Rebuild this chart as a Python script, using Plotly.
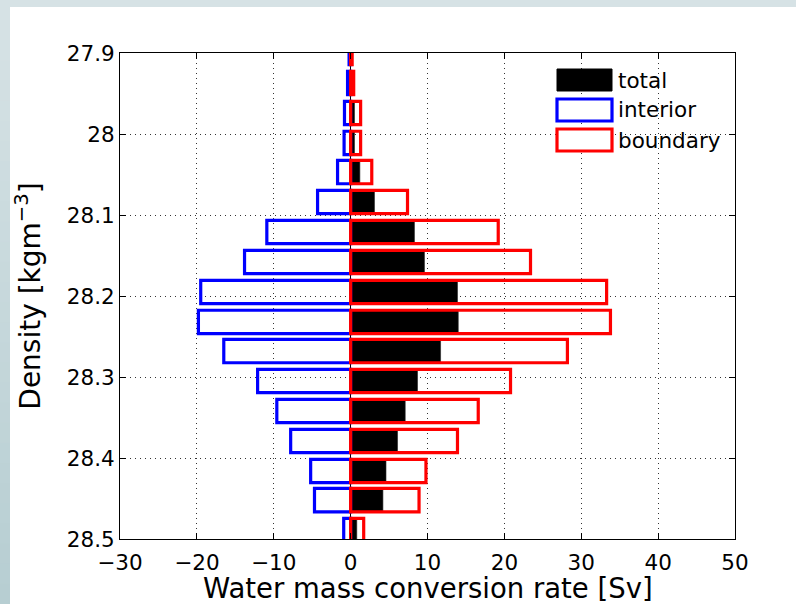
import plotly.graph_objects as go

# Density classes (bin centres, kg m^-3)
density = [27.900, 27.937, 27.974, 28.011, 28.047, 28.084, 28.121, 28.158, 28.195,
           28.232, 28.268, 28.305, 28.342, 28.379, 28.416, 28.452, 28.489]

# Water mass conversion rates (Sv)
total = [0.0, 0.05, 0.5, 0.5, 1.2, 3.1, 8.3, 9.6, 13.9,
         14.0, 11.7, 8.7, 7.1, 6.1, 4.6, 4.2, 0.8]
interior = [-0.2, -0.4, -0.8, -0.85, -1.7, -4.3, -10.9, -13.8, -19.5,
            -19.8, -16.5, -12.1, -9.6, -7.8, -5.2, -4.7, -0.9]
boundary = [0.2, 0.4, 1.3, 1.3, 2.75, 7.4, 19.2, 23.4, 33.3,
            33.8, 28.2, 20.8, 16.6, 13.9, 9.8, 8.9, 1.7]

y_ticks = [27.9, 28.0, 28.1, 28.2, 28.3, 28.4, 28.5]
y_ticktext = ["27.9", "28", "28.1", "28.2", "28.3", "28.4", "28.5"]

series_names = ["total", "interior", "boundary"]
series_colors = ["black", "#0000ff", "#ff0000"]

FONT = "DejaVu Sans"
W, H = 796, 604
ML, MR, MT, MB = 120, 61, 53, 65
PW, PH = W - ML - MR, H - MT - MB


def px(x):
    return (x - ML) / PW


def py(y):
    return (H - MB - y) / PH


fig = go.Figure()
fig.add_trace(go.Bar(y=density, x=total, orientation="h", name="total",
                     marker=dict(color="black", line=dict(color="#222", width=0.6)),
                     showlegend=False))
fig.add_trace(go.Bar(y=density, x=interior, orientation="h", name="interior",
                     marker=dict(color="rgba(0,0,0,0)", line=dict(color="#0000ff", width=3.2)),
                     showlegend=False))
fig.add_trace(go.Bar(y=density, x=boundary, orientation="h", name="boundary",
                     marker=dict(color="rgba(0,0,0,0)", line=dict(color="#ff0000", width=3.2)),
                     showlegend=False))

shapes = []
# window-style backdrop: light frame at top/left with a soft vertical gradient
top_c = (214, 226, 229)
bot_c = (183, 206, 210)
n = 30
for i in range(n):
    t = i / (n - 1)
    c = tuple(round(top_c[k] + (bot_c[k] - top_c[k]) * t) for k in range(3))
    shapes.append(dict(type="rect", xref="paper", yref="paper", layer="below",
                       x0=px(0), x1=px(10), y0=py(H * i / n), y1=py(H * (i + 1) / n + 1),
                       fillcolor="rgb(%d,%d,%d)" % c, line=dict(width=0)))
shapes.append(dict(type="rect", xref="paper", yref="paper", layer="below",
                   x0=px(10), x1=px(W), y0=py(0), y1=py(7),
                   fillcolor="rgb(%d,%d,%d)" % top_c, line=dict(width=0)))
shapes.append(dict(type="rect", xref="paper", yref="paper", layer="below",
                   x0=px(10), x1=px(W), y0=py(7), y1=py(H),
                   fillcolor="white", line=dict(width=0)))

# legend swatches
annotations = []
sw_x0, sw_x1 = 557, 612
rows = [(69, 91), (99, 121), (129, 151)]
for (y0, y1), name, col in zip(rows, series_names, series_colors):
    if name == "total":
        shapes.append(dict(type="rect", xref="paper", yref="paper", layer="above",
                           x0=px(sw_x0), x1=px(sw_x1), y0=py(y1), y1=py(y0),
                           fillcolor="black", line=dict(color="black", width=1)))
    else:
        shapes.append(dict(type="rect", xref="paper", yref="paper", layer="above",
                           x0=px(sw_x0), x1=px(sw_x1), y0=py(y1), y1=py(y0),
                           fillcolor="white", line=dict(color=col, width=3.2)))
    annotations.append(dict(xref="paper", yref="paper", x=px(616), y=py((y0 + y1) / 2),
                            text=name, showarrow=False, xanchor="left", yanchor="middle",
                            font=dict(family=FONT, size=21.5, color="black")))

# x-axis title
annotations.append(dict(xref="paper", yref="paper", x=0.5, y=py(588),
                        text="Water mass conversion rate [Sv]", showarrow=False,
                        xanchor="center", yanchor="middle",
                        font=dict(family=FONT, size=27.5, color="black")))

fig.update_layout(
    width=W, height=H,
    margin=dict(l=ML, r=MR, t=MT, b=MB, pad=0, autoexpand=False),
    barmode="overlay", bargap=0.2,
    paper_bgcolor="white", plot_bgcolor="white",
    font=dict(family=FONT, size=21.5, color="black"),
    shapes=shapes, annotations=annotations,
    showlegend=False,
)
fig.update_xaxes(
    range=[-30, 50], tick0=0, dtick=10, automargin=False,
    ticks="inside", ticklen=6, tickcolor="black",
    showline=True, linecolor="black", linewidth=1, mirror="ticks",
    showgrid=True, gridcolor="#333", gridwidth=1, griddash="1px,4px",
    zeroline=True, zerolinecolor="black", zerolinewidth=1,
    tickfont=dict(family=FONT, size=21.5), ticklabelstandoff=4,
)
fig.update_yaxes(
    range=[28.5, 27.9], tickvals=y_ticks, ticktext=y_ticktext, automargin=False,
    ticks="inside", ticklen=6, tickcolor="black",
    showline=True, linecolor="black", linewidth=1, mirror="ticks",
    showgrid=True, gridcolor="#333", gridwidth=1, griddash="1px,4px",
    zeroline=False,
    tickfont=dict(family=FONT, size=21.5),
    title=dict(text="Density [kgm<sup>\u22123</sup>]", font=dict(family=FONT, size=28), standoff=18),
)

fig.write_html("out.html")
